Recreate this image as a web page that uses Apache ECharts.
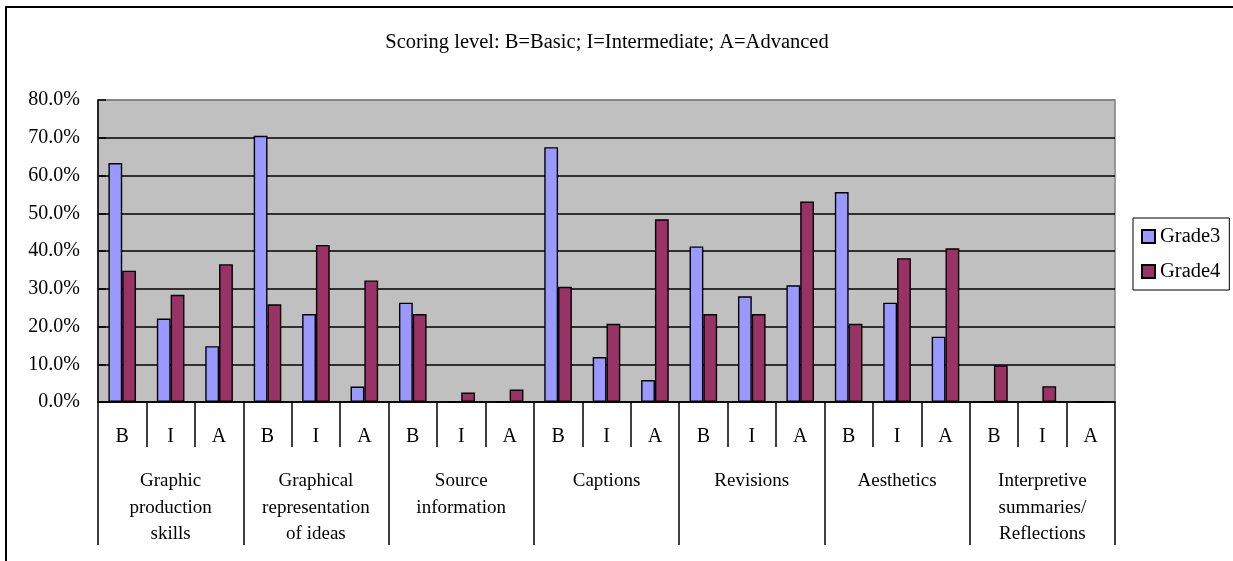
<!DOCTYPE html>
<html>
<head>
<meta charset="utf-8">
<script src="https://cdn.jsdelivr.net/npm/echarts@6/dist/echarts.min.js"></script>
<style>html,body{margin:0;padding:0;background:#fff}#c{width:1233px;height:561px}</style>
</head>
<body>
<div id="c"></div>
<script>
const titleText = 'Scoring level: B=Basic; I=Intermediate; A=Advanced';
const groups = ['Graphic\nproduction\nskills', 'Graphical\nrepresentation\nof ideas', 'Source\ninformation', 'Captions', 'Revisions', 'Aesthetics', 'Interpretive\nsummaries/\nReflections'];
const levels = ['B', 'I', 'A'];
const seriesNames = ['Grade3', 'Grade4'];
const grade3 = [0.633, 0.221, 0.148, 0.705, 0.233, 0.041, 0.263, 0, 0, 0.675, 0.119, 0.058, 0.412, 0.280, 0.309, 0.556, 0.263, 0.173, 0, 0, 0];
const grade4 = [0.348, 0.284, 0.365, 0.259, 0.416, 0.322, 0.233, 0.025, 0.033, 0.305, 0.207, 0.484, 0.233, 0.233, 0.531, 0.207, 0.381, 0.407, 0.097, 0.042, 0];
const yTicks = [0, 0.1, 0.2, 0.3, 0.4, 0.5, 0.6, 0.7, 0.8];

const levelCats = [];
groups.forEach(() => levels.forEach(l => levelCats.push(l)));
const FONT = 'Liberation Serif';
const gridColors = yTicks.map((t, i) => i === yTicks.length - 1 ? '#808080' : '#000');

const chart = echarts.init(document.getElementById('c'), null, {renderer: 'canvas'});
chart.setOption({
  animation: false,
  backgroundColor: '#fff',
  title: {
    text: titleText, left: 602, top: 27, textAlign: 'center',
    textStyle: {fontFamily: FONT, fontSize: 20.5, fontWeight: 'normal', color: '#000'}
  },
  graphic: [{
    type: 'rect', shape: {x: 6, y: 7, width: 1400, height: 800},
    style: {fill: 'none', stroke: '#000', lineWidth: 2}, silent: true, z: 100
  }],
  legend: {
    orient: 'vertical', left: 1133, top: 218,
    data: seriesNames,
    icon: 'rect', itemWidth: 13, itemHeight: 13, itemGap: 14,
    borderColor: '#000', borderWidth: 1, padding: [8, 9, 8, 8],
    backgroundColor: '#fff',
    textStyle: {fontFamily: FONT, fontSize: 20.5, color: '#000'}
  },
  grid: {
    left: 98, right: 118, top: 100, bottom: 159,
    show: true, backgroundColor: '#C0C0C0', borderColor: '#808080', borderWidth: 1.5
  },
  xAxis: [{
    type: 'category', data: levelCats, position: 'bottom',
    axisLine: {show: true, lineStyle: {color: '#000', width: 1.5}},
    axisTick: {show: true, interval: 0, length: 45, lineStyle: {color: '#000', width: 1.5}},
    axisLabel: {interval: 0, margin: 25, fontFamily: FONT, fontSize: 20, color: '#000'},
    splitLine: {show: false}
  }, {
    type: 'category', data: groups, position: 'bottom',
    axisLine: {show: false},
    axisTick: {show: true, interval: 0, length: 143, lineStyle: {color: '#000', width: 1.5}},
    axisLabel: {interval: 0, margin: 66, fontFamily: FONT, fontSize: 19, lineHeight: 26.5, color: '#000'},
    splitLine: {show: false}
  }],
  yAxis: {
    type: 'value', min: 0, max: 0.8, interval: 0.1,
    axisLine: {show: true, lineStyle: {color: '#000', width: 1.5}},
    axisTick: {show: true, inside: true, length: 8, lineStyle: {color: '#000', width: 1.5}},
    axisLabel: {margin: 18, fontFamily: FONT, fontSize: 20, color: '#000',
      formatter: v => (v * 100).toFixed(1) + '%'},
    splitLine: {show: true, lineStyle: {color: gridColors, width: 1.5}}
  },
  series: [{
    name: seriesNames[0], type: 'bar', data: grade3, xAxisIndex: 0,
    barGap: '0%', barCategoryGap: '43%',
    itemStyle: {color: '#9999FF', borderColor: '#000', borderWidth: 1.4}
  }, {
    name: seriesNames[1], type: 'bar', data: grade4, xAxisIndex: 0,
    barGap: '0%', barCategoryGap: '43%',
    itemStyle: {color: '#993366', borderColor: '#000', borderWidth: 1.4}
  }]
});
</script>
</body>
</html>
